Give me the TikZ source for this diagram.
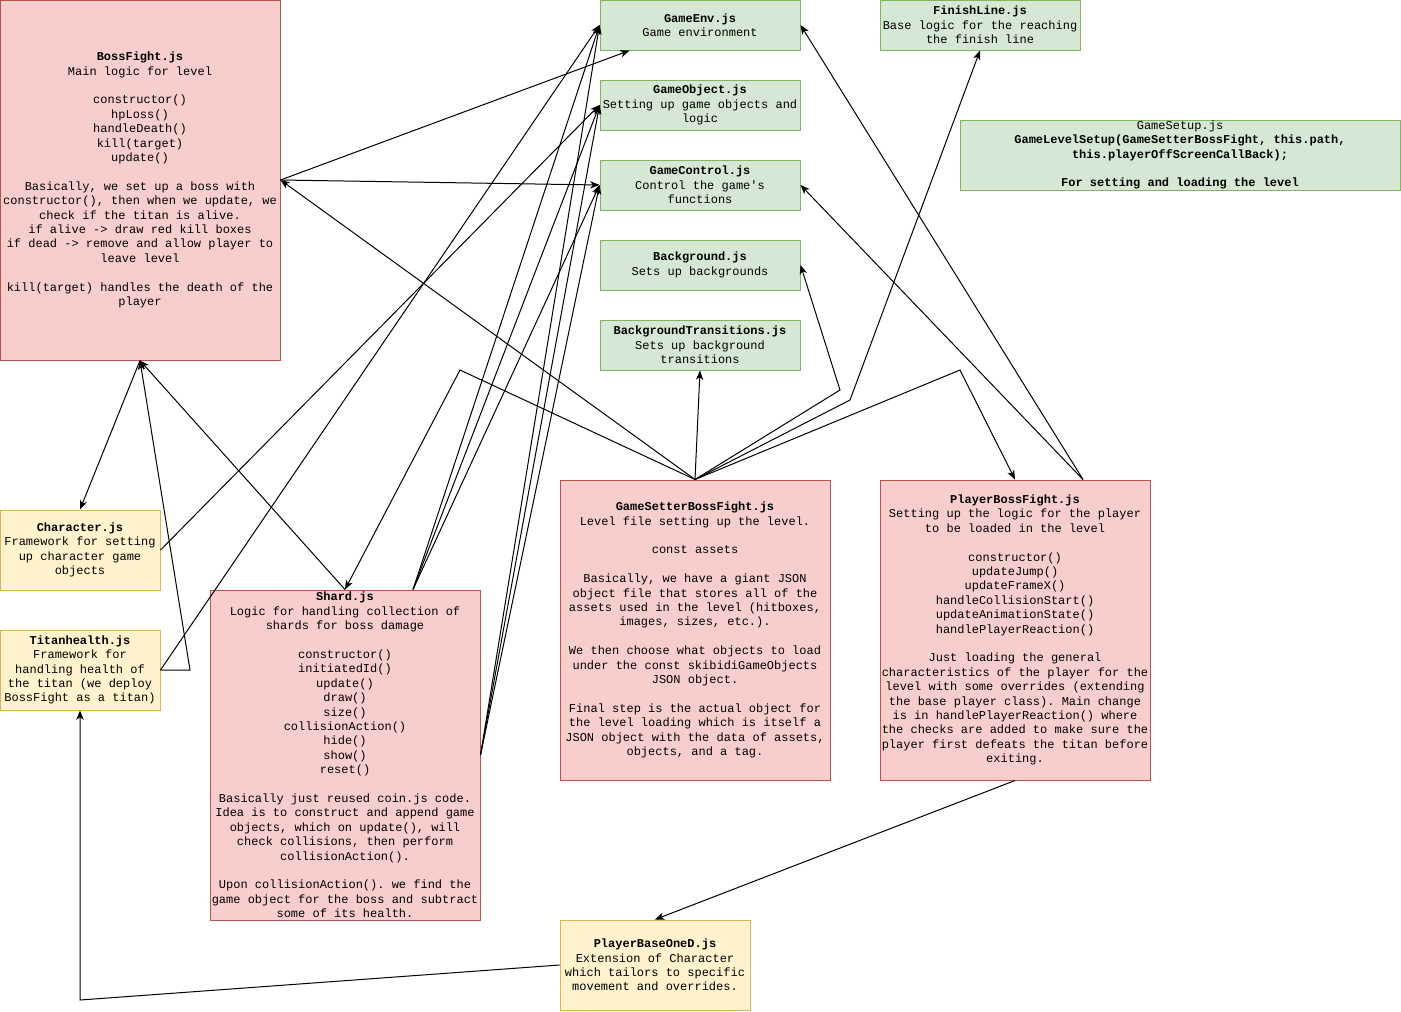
\documentclass[tikz,border=0pt]{standalone}
\usepackage{fontspec}
\setmonofont{Liberation Mono}
\usepackage{tikz}
\usetikzlibrary{arrows.meta}

\definecolor{redfill}{HTML}{F8CECC}
\definecolor{redline}{HTML}{B85450}
\definecolor{greenfill}{HTML}{D5E8D4}
\definecolor{greenline}{HTML}{82B366}
\definecolor{yellowfill}{HTML}{FFF2CC}
\definecolor{yellowline}{HTML}{D6B656}

\tikzset{
  filebox/.style={rectangle, inner sep=0pt, align=center, line width=0.75pt,
    font=\fontsize{9}{10.8}\selectfont\ttfamily},
  redbox/.style={filebox, draw=redline, fill=redfill},
  greenbox/.style={filebox, draw=greenline, fill=greenfill},
  yellowbox/.style={filebox, draw=yellowline, fill=yellowfill},
  arr/.style={-{Stealth[length=7pt,width=5.5pt,inset=2pt]}, line width=0.75pt},
  link/.style={line width=0.75pt}
}

\begin{document}
\begin{tikzpicture}[x=0.75pt,y=-0.75pt]
  \useasboundingbox (0,0) rectangle (1401,1011);

  \node[redbox, minimum width=210pt, minimum height=270pt] (bf) at (140,180)
    {\textbf{BossFight.js}\\ Main logic for level\\[10.8pt]
     constructor()\\ hpLoss()\\ handleDeath()\\ kill(target)\\ update()\\[10.8pt]
     Basically, we set up a boss with\\
     constructor(), then when we update, we\\
     check if the titan is alive.\\
     if alive -> draw red kill boxes\\
     if dead -> remove and allow player to\\
     leave level\\[10.8pt]
     kill(target) handles the death of the\\ player};
  \node[greenbox, minimum width=150pt, minimum height=37.5pt] (genv) at (700,25)
    {\textbf{GameEnv.js}\\ Game environment};
  \node[greenbox, minimum width=150pt, minimum height=37.5pt] (gobj) at (700,105)
    {\textbf{GameObject.js}\\ Setting up game objects and\\ logic};
  \node[greenbox, minimum width=150pt, minimum height=37.5pt] (gctl) at (700,185)
    {\textbf{GameControl.js}\\ Control the game's\\ functions};
  \node[greenbox, minimum width=150pt, minimum height=37.5pt] (bg) at (700,265)
    {\textbf{Background.js}\\ Sets up backgrounds};
  \node[greenbox, minimum width=150pt, minimum height=37.5pt] (bgt) at (700,345)
    {\textbf{BackgroundTransitions.js}\\ Sets up background\\ transitions};
  \node[greenbox, minimum width=150pt, minimum height=37.5pt] (fin) at (980,25)
    {\textbf{FinishLine.js}\\ Base logic for the reaching\\ the finish line};
  \node[greenbox, minimum width=330pt, minimum height=52.5pt] (gsetup) at (1180,155)
    {GameSetup.js\\ \textbf{GameLevelSetup(GameSetterBossFight, this.path,}\\
     \textbf{this.playerOffScreenCallBack);}\\[10.8pt]
     \textbf{For setting and loading the level}};
  \node[yellowbox, minimum width=120pt, minimum height=60pt] (chr) at (80,550)
    {\textbf{Character.js}\\ Framework for setting\\ up character game\\ objects};
  \node[yellowbox, minimum width=120pt, minimum height=60pt] (titan) at (80,670)
    {\textbf{Titanhealth.js}\\ Framework for\\ handling health of\\ the titan (we deploy\\ BossFight as a titan)};
  \node[redbox, minimum width=202.5pt, minimum height=247.5pt] (shard) at (345,755)
    {\textbf{Shard.js}\\ Logic for handling collection of\\ shards for boss damage\\[10.8pt]
     constructor()\\ initiatedId()\\ update()\\ draw()\\ size()\\ collisionAction()\\
     hide()\\ show()\\ reset()\\[10.8pt]
     Basically just reused coin.js code.\\
     Idea is to construct and append game\\
     objects, which on update(), will\\
     check collisions, then perform\\
     collisionAction().\\[10.8pt]
     Upon collisionAction(). we find the\\
     game object for the boss and subtract\\
     some of its health.};
  \node[redbox, minimum width=202.5pt, minimum height=225pt] (gset) at (695,630)
    {\textbf{GameSetterBossFight.js}\\ Level file setting up the level.\\[10.8pt]
     const assets\\[10.8pt]
     Basically, we have a giant JSON\\
     object file that stores all of the\\
     assets used in the level (hitboxes,\\
     images, sizes, etc.).\\[10.8pt]
     We then choose what objects to load\\
     under the const skibidiGameObjects\\
     JSON object.\\[10.8pt]
     Final step is the actual object for\\
     the level loading which is itself a\\
     JSON object with the data of assets,\\
     objects, and a tag.};
  \node[redbox, minimum width=202.5pt, minimum height=225pt] (pbf) at (1015,630)
    {\textbf{PlayerBossFight.js}\\ Setting up the logic for the player\\ to be loaded in the level\\[10.8pt]
     constructor()\\ updateJump()\\ updateFrameX()\\ handleCollisionStart()\\
     updateAnimationState()\\ handlePlayerReaction()\\[10.8pt]
     Just loading the general\\
     characteristics of the player for the\\
     level with some overrides (extending\\
     the base player class). Main change\\
     is in handlePlayerReaction() where\\
     the checks are added to make sure the\\
     player first defeats the titan before\\
     exiting.};
  \node[yellowbox, minimum width=142.5pt, minimum height=67.5pt] (pbase) at (655,965)
    {\textbf{PlayerBaseOneD.js}\\ Extension of Character\\ which tailors to specific\\ movement and overrides.};

  \coordinate (genvfoot) at ([xshift=22.5pt]genv.south west);
  \coordinate (shardtop) at ([xshift=51pt]shard.north);
  \coordinate (pbftop) at ([xshift=51pt]pbf.north);
  \coordinate (bgbend) at (840,390);
  \coordinate (finbend) at (850,400);
  \coordinate (pbfbend) at (960,370);
  \coordinate (shardbend) at (460,370);
  \coordinate (titanbend) at (190,670);
  \coordinate (basebend) at (80,1000);

  \draw[arr] (bf.east) -- (genvfoot);
  \draw[arr] (bf.east) -- (gctl.west);
  \draw[arr] (gset.north) -- (bf.east);
  \draw[arr] (gset.north) -- (bgt.south);
  \draw[arr] (gset.north) -- (bgbend) -- (bg.east);
  \draw[arr] (gset.north) -- (finbend) -- (fin.south);
  \draw[arr] (gset.north) -- (pbfbend) -- (pbf.north);
  \draw[arr] (gset.north) -- (shardbend) -- (shard.north);
  \draw[arr] (pbftop) -- (genv.east);
  \draw[arr] (pbftop) -- (gctl.east);
  \draw[arr] (pbf.south) -- (pbase.north);
  \draw[arr] (pbase.west) -- (basebend) -- (titan.south);
  \draw[arr] (bf.south) -- (chr.north);
  \draw[arr] (chr.east) -- (gobj.west);
  \draw[arr] (titan.east) -- (genv.west);
  \draw[arr] (titan.east) -- (titanbend) -- (bf.south);
  \draw[arr] (shard.north) -- (bf.south);
  \foreach \t in {genv,gobj,gctl}{
    \draw[arr] (shardtop) -- (\t.west);
    \draw[arr] (shard.east) -- (\t.west);
  }
\end{tikzpicture}
\end{document}
